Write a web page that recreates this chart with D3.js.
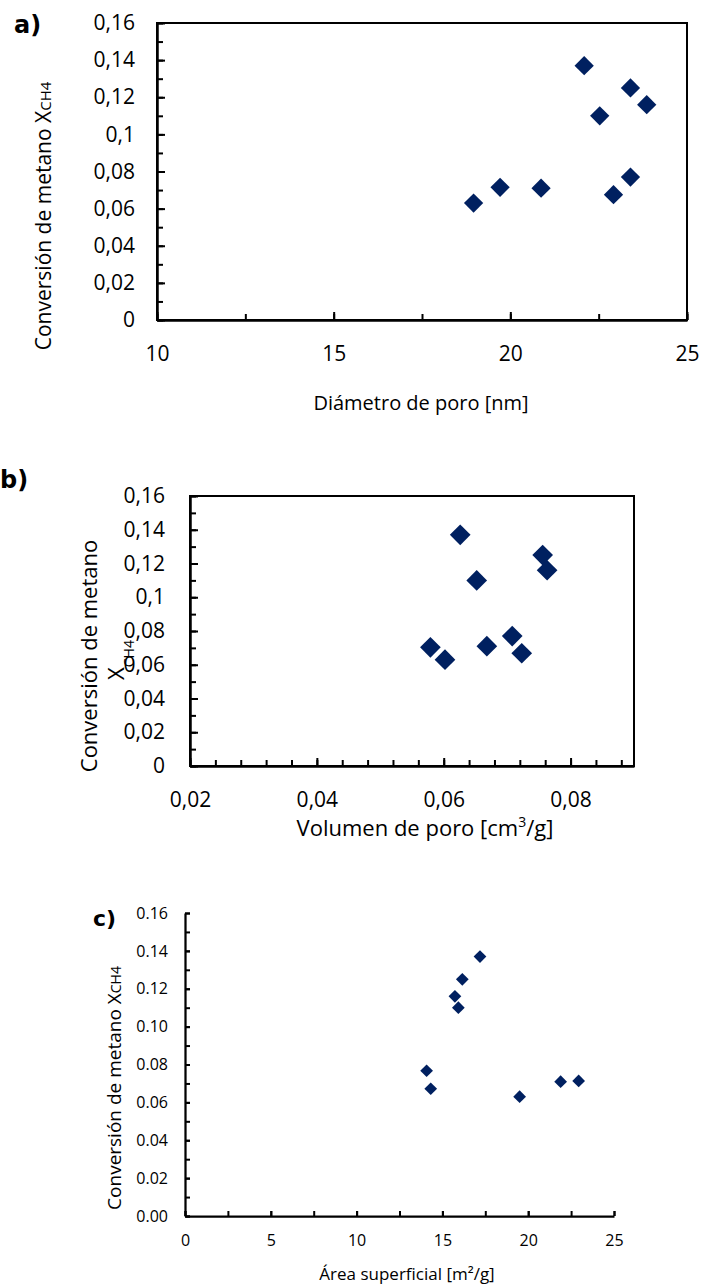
<!DOCTYPE html>
<html><head><meta charset="utf-8">
<script src="https://cdn.jsdelivr.net/npm/d3@7"></script>
<style>
html,body{margin:0;padding:0;background:#fff;}
svg{display:block;}
text{font-family:"Open Sans",sans-serif;fill:#000;}
</style></head><body>
<svg id="fig" width="702" height="1287"></svg>
<script>
// a) methane conversion against pore diameter
const poreDiameter = [22.09, 23.40, 23.86, 22.53, 23.40, 22.92, 20.87, 19.71, 18.96];
const conversionA  = [0.137, 0.125, 0.116, 0.110, 0.077, 0.0675, 0.071, 0.0715, 0.063];

// b) methane conversion against pore volume
const poreVolume  = [0.0626, 0.0756, 0.0763, 0.0652, 0.0708, 0.0723, 0.0668, 0.0579, 0.0602];
const conversionB = [0.137, 0.125, 0.116, 0.110, 0.077, 0.0668, 0.071, 0.0703, 0.063];

// c) methane conversion against surface area
const surfaceArea = [17.19, 16.16, 15.73, 15.93, 14.08, 14.32, 19.50, 21.89, 22.94];
const conversionC = [0.137, 0.125, 0.116, 0.110, 0.0767, 0.0672, 0.063, 0.0709, 0.0713];

// tick labels
const diameterTicks = [10, 15, 20, 25];
const volumeTicks   = [0.02, 0.04, 0.06, 0.08];
const areaTicks     = [0, 5, 10, 15, 20, 25];
const conversionTicks = [0, 0.02, 0.04, 0.06, 0.08, 0.1, 0.12, 0.14, 0.16];

const esLocale = d3.formatLocale({decimal: ",", thousands: ".", grouping: [3], currency: ["", ""]});
const fmtComma = esLocale.format("~g");
const fmtFixed = d3.format(".2f");

const svg = d3.select("#fig");
const markerColor = "#002060";

function addAxis(g, axis, transform, opts) {
  const a = g.append("g").attr("transform", transform).call(axis);
  a.selectAll(".tick line").attr("stroke", "#000").attr("stroke-width", opts.tickWidth);
  if (opts.domain) {
    a.select(".domain").attr("stroke", "#000").attr("stroke-width", opts.lineWidth);
  } else {
    a.select(".domain").remove();
  }
  a.selectAll("text").attr("fill", "#000").style("font-family", "'Open Sans',sans-serif")
    .style("font-size", opts.fontSize + "px");
  return a;
}

function panel(cfg) {
  const g = svg.append("g");
  const x = d3.scaleLinear().domain(cfg.xDomain).range([cfg.left, cfg.right]);
  const y = d3.scaleLinear().domain([0, 0.16]).range([cfg.bottom, cfg.top]);

  if (cfg.box) {
    g.append("rect")
      .attr("x", cfg.left).attr("y", cfg.top)
      .attr("width", cfg.right - cfg.left).attr("height", cfg.bottom - cfg.top)
      .attr("fill", "none").attr("stroke", "#000").attr("stroke-width", cfg.boxWidth);
  }

  const o = {tickWidth: cfg.tickWidth, lineWidth: cfg.lineWidth, fontSize: cfg.tickFont};

  // minor ticks, pointing into the plot
  addAxis(g, d3.axisBottom(x).tickValues(cfg.xMinor).tickSizeInner(-cfg.minorLen).tickSizeOuter(0).tickFormat(""),
    `translate(0,${cfg.bottom})`, {...o, domain: false});
  addAxis(g, d3.axisLeft(y).tickValues(d3.range(0, 0.1601, 0.01)).tickSizeInner(-cfg.minorLen).tickSizeOuter(0).tickFormat(""),
    `translate(${cfg.left},0)`, {...o, domain: false});

  // major ticks with labels
  addAxis(g, d3.axisBottom(x).tickValues(cfg.xTicks).tickSizeInner(-cfg.majorLen).tickSizeOuter(0)
      .tickPadding(cfg.xPad).tickFormat(cfg.xFormat),
    `translate(0,${cfg.bottom})`, {...o, domain: true});
  addAxis(g, d3.axisLeft(y).tickValues(conversionTicks).tickSizeInner(-cfg.majorLen).tickSizeOuter(0)
      .tickPadding(cfg.yPad).tickFormat(cfg.yFormat),
    `translate(${cfg.left},0)`, {...o, domain: true});

  // data points as diamonds
  const sym = d3.symbol().type(d3.symbolSquare).size(cfg.markerSize);
  g.append("g").selectAll("path")
    .data(cfg.xs.map((v, i) => [v, cfg.ys[i]]))
    .join("path")
    .attr("d", sym)
    .attr("transform", d => `translate(${x(d[0])},${y(d[1])}) rotate(45)`)
    .attr("fill", markerColor);

  // panel letter
  g.append("text").attr("x", cfg.letterX).attr("y", cfg.letterY)
    .style("font-family", "'DejaVu Sans',sans-serif").style("font-weight", "bold")
    .style("font-size", cfg.letterFont + "px").text(cfg.letter);

  // x title
  const xt = g.append("text").attr("x", cfg.xTitleX).attr("y", cfg.xTitleY)
    .attr("text-anchor", "middle").style("font-size", cfg.xTitleFont + "px");
  cfg.xTitle(xt);

  return g;
}

// ---------- a) ----------
const gA = panel({
  left: 157, right: 687, top: 23, bottom: 320,
  xDomain: [10, 25], xTicks: diameterTicks, xMinor: d3.range(10, 25.01, 2.5),
  xFormat: d3.format("d"), yFormat: fmtComma,
  box: true, boxWidth: 2, lineWidth: 2.5, tickWidth: 2,
  majorLen: 8, minorLen: 6, tickFont: 21, xPad: 26, yPad: 22,
  xs: poreDiameter, ys: conversionA, markerSize: 186,
  letter: "a)", letterX: 14, letterY: 33, letterFont: 24,
  xTitleX: 421, xTitleY: 410, xTitleFont: 20,
  xTitle: t => t.text("Diámetro de poro [nm]")
});
{
  const t = gA.append("text").attr("transform", "translate(51,216) rotate(-90)")
    .attr("text-anchor", "middle").style("font-size", "21px");
  t.append("tspan").text("Conversión de metano X");
  t.append("tspan").style("font-size", "15px").text("CH4");
}

// ---------- b) ----------
const gB = panel({
  left: 190, right: 634, top: 496, bottom: 766,
  xDomain: [0.02, 0.09], xTicks: volumeTicks, xMinor: d3.range(0.02, 0.0895, 0.004),
  xFormat: fmtComma, yFormat: fmtComma,
  box: true, boxWidth: 2, lineWidth: 2.5, tickWidth: 2,
  majorLen: 8, minorLen: 6, tickFont: 21, xPad: 26, yPad: 25,
  xs: poreVolume, ys: conversionB, markerSize: 214,
  letter: "b)", letterX: 0, letterY: 488, letterFont: 24,
  xTitleX: 425, xTitleY: 836, xTitleFont: 22,
  xTitle: t => {
    t.append("tspan").text("Volumen de poro [cm");
    t.append("tspan").attr("baseline-shift", "super").style("font-size", "14px").text("3");
    t.append("tspan").text("/g]");
  }
});
{
  const t1 = gB.append("text").attr("transform", "translate(97,656) rotate(-90)")
    .attr("text-anchor", "middle").style("font-size", "22px");
  t1.text("Conversión de metano");
  const t2 = gB.append("text").attr("transform", "translate(124,660) rotate(-90)")
    .attr("text-anchor", "middle").style("font-size", "22px");
  t2.append("tspan").text("X");
  t2.append("tspan").attr("baseline-shift", "sub").style("font-size", "14px").text("CH4");
}

// ---------- c) ----------
const gC = panel({
  left: 185, right: 614, top: 913, bottom: 1216,
  xDomain: [0, 25], xTicks: areaTicks, xMinor: d3.range(0, 25.01, 2.5),
  xFormat: d3.format("d"), yFormat: fmtFixed,
  box: false, lineWidth: 2.25, tickWidth: 2,
  majorLen: 5, minorLen: 5, tickFont: 16, xPad: 19, yPad: 17,
  xs: surfaceArea, ys: conversionC, markerSize: 81,
  letter: "c)", letterX: 93, letterY: 926, letterFont: 22,
  xTitleX: 407, xTitleY: 1280, xTitleFont: 17,
  xTitle: t => t.text("Área superficial [m²/g]")
});
{
  const t = gC.append("text").attr("transform", "translate(121,1088) rotate(-90)")
    .attr("text-anchor", "middle").style("font-size", "19px");
  t.append("tspan").text("Conversión de metano X");
  t.append("tspan").style("font-size", "14px").text("CH4");
}
</script>
</body></html>
